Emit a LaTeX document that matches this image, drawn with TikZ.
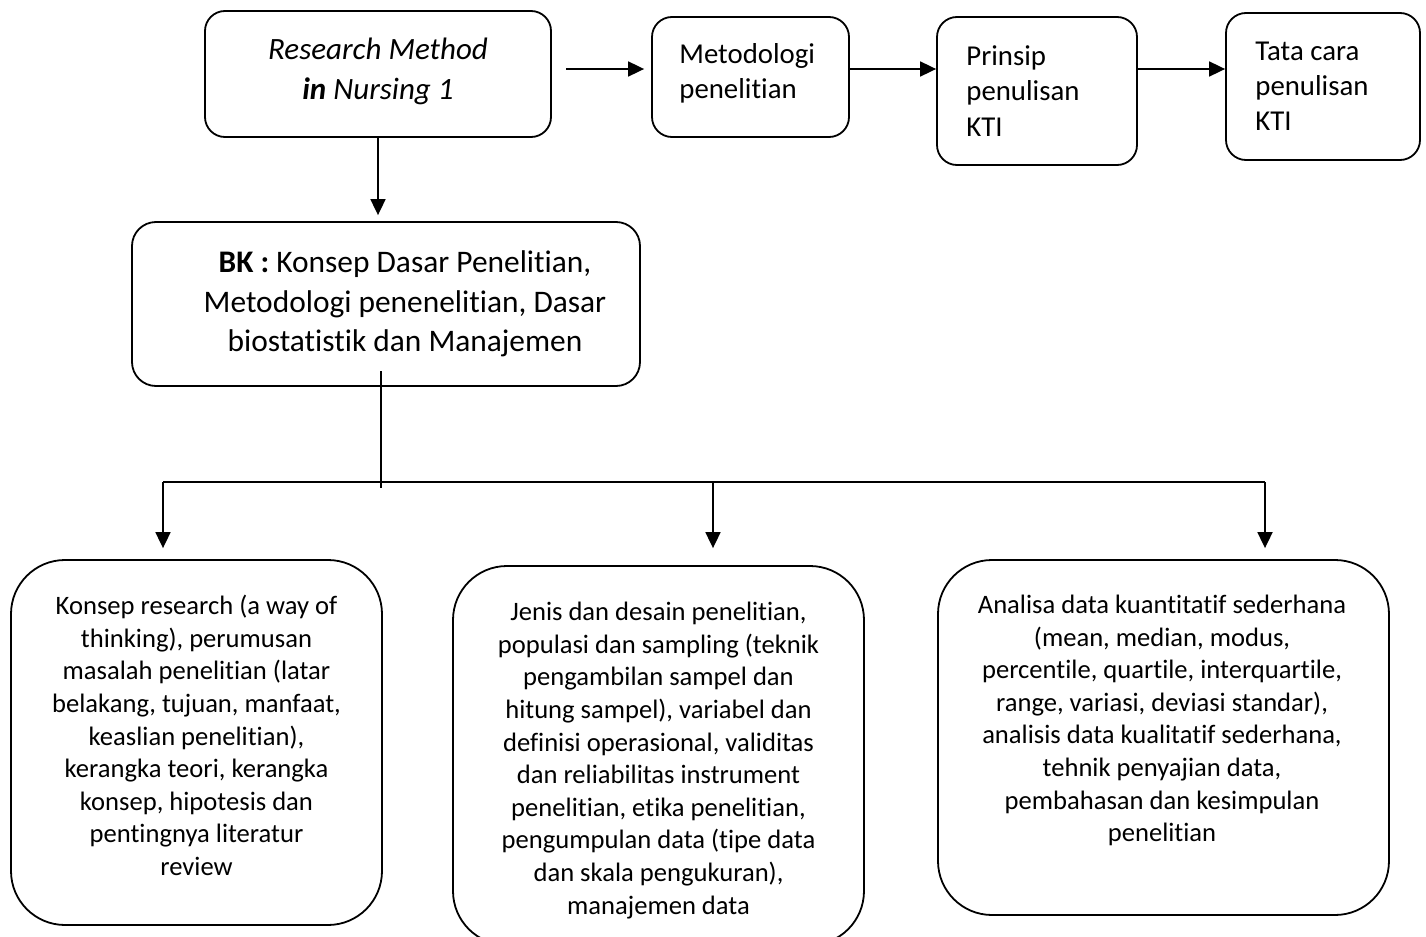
\documentclass[tikz,border=0pt]{standalone}
\usepackage{fontspec}
\setmainfont{Carlito}[Ligatures=NoCommon]
\usetikzlibrary{arrows.meta}

\begin{document}
\begin{tikzpicture}[x=0.5pt, y=-0.5pt,
  box/.style={draw, line width=0.9pt, rounded corners=10pt, inner sep=0pt},
  bigbox/.style={box, rounded corners=27pt},
  txt/.style={inner sep=0pt, align=center},
  toptxt/.style={inner sep=0pt, align=left, anchor=west, font=\fontsize{14.4}{17.6}\selectfont},
  bigtxt/.style={txt, font=\fontsize{13.3}{16.3}\selectfont},
  arr/.style={-{Triangle[length=8pt,width=7.5pt]}, line width=0.9pt}]
  \useasboundingbox (0,0) rectangle (1426,937);
  \node[box, minimum width=173pt, minimum height=63pt] (rmn) at (378,74) {};
  \node[txt, font=\fontsize{15.5}{20}\selectfont] (rmn-t) at (378,71)
    {\textit{Research Method}\\ \textbf{\textit{in}} \textit{Nursing 1}};
  \node[box, minimum width=98.5pt, minimum height=60pt] (met) at (750.5,77) {};
  \node[toptxt] (met-t) at (679,73) {Metodologi\\ penelitian};
  \node[box, minimum width=100pt, minimum height=74pt] (pri) at (1037,91) {};
  \node[toptxt] (pri-t) at (966,91) {Prinsip\\ penulisan\\ KTI};
  \node[box, minimum width=97pt, minimum height=73.5pt] (tat) at (1323,86.5) {};
  \node[toptxt] (tat-t) at (1255,86.5) {Tata cara\\ penulisan\\ KTI};
  \node[box, rounded corners=12pt, minimum width=254pt, minimum height=82pt] (bk) at (386,304) {};
  \node[txt, font=\fontsize{15.7}{19.75}\selectfont] (bk-t) at (405,304)
    {\textbf{BK :} Konsep Dasar Penelitian,\\ Metodologi penenelitian, Dasar\\ biostatistik dan Manajemen};
  \node[bigbox, minimum width=185.5pt, minimum height=182.5pt] (kl) at (196.5,742.5) {};
  \node[bigtxt] (kl-t) at (196.5,735.5)
    {Konsep research (a way of\\ thinking), perumusan\\ masalah penelitian (latar\\ belakang, tujuan, manfaat,\\ keaslian penelitian),\\ kerangka teori, kerangka\\ konsep, hipotesis dan\\ pentingnya literatur\\ review};
  \node[bigbox, minimum width=205.5pt, minimum height=189.5pt] (km) at (658.5,755.5) {};
  \node[bigtxt] (km-t) at (658.5,760.5)
    {Jenis dan desain penelitian,\\ populasi dan sampling (teknik\\ pengambilan sampel dan\\ hitung sampel), variabel dan\\ definisi operasional, validitas\\ dan reliabilitas instrument\\ penelitian, etika penelitian,\\ pengumpulan data (tipe data\\ dan skala pengukuran),\\ manajemen data};
  \node[bigbox, minimum width=225.5pt, minimum height=177.5pt] (kr) at (1163.5,737.5) {};
  \node[bigtxt] (kr-t) at (1162,720.5)
    {Analisa data kuantitatif sederhana\\ (mean, median, modus,\\ percentile, quartile, interquartile,\\ range, variasi, deviasi standar),\\ analisis data kualitatif sederhana,\\ tehnik penyajian data,\\ pembahasan dan kesimpulan\\ penelitian};
  \coordinate (rmo) at (566,69);
  \coordinate (bkin) at (381,371);
  \coordinate (hub) at (381,488);
  \coordinate (hl) at (163,482);
  \coordinate (hm) at (713,482);
  \coordinate (hr) at (1265,482);
  \draw[arr, shorten >=3.5pt] (rmo) -- (rmo -| met.west);
  \draw[arr] (met.east |- rmo) -- (pri.west |- rmo);
  \draw[arr] (pri.east |- rmo) -- (tat.west |- rmo);
  \draw[arr, shorten >=3pt] (rmn.south) -- (rmn.south |- bk.north);
  \draw[line width=0.9pt] (bkin) -- (hub);
  \draw[line width=0.9pt] (hl) -- (hr);
  \draw[arr, shorten >=5.5pt] (hl) -- (hl |- kl.north);
  \draw[arr, shorten >=8.5pt] (hm) -- (hm |- km.north);
  \draw[arr, shorten >=5.5pt] (hr) -- (hr |- kr.north);
\end{tikzpicture}
\end{document}
